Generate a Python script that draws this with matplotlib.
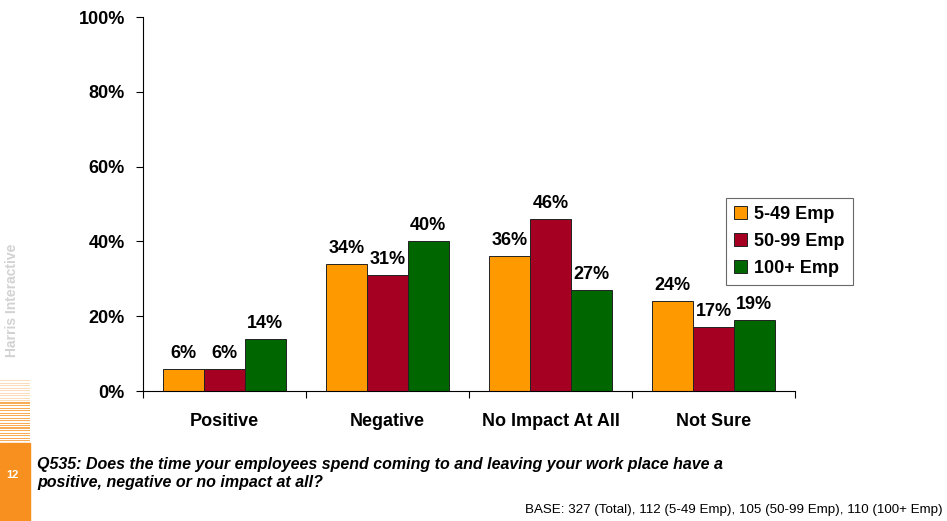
import matplotlib.pyplot as plt
import matplotlib.patches as patches
import numpy as np

plt.rcParams['font.family'] = ['Liberation Sans', 'DejaVu Sans']

categories = ['Positive', 'Negative', 'No Impact At All', 'Not Sure']
series_names = ['5-49 Emp', '50-99 Emp', '100+ Emp']
emp_5_49 = [6, 34, 36, 24]
emp_50_99 = [6, 31, 46, 17]
emp_100_plus = [14, 40, 27, 19]
colors = ['#FF9900', '#A50021', '#006600']

question = ('Q535: Does the time your employees spend coming to and leaving your work place have a\n'
            'positive, negative or no impact at all?')
base_note = 'BASE: 327 (Total), 112 (5-49 Emp), 105 (50-99 Emp), 110 (100+ Emp)'

W, H = 947, 521
fig = plt.figure(figsize=(W / 100, H / 100), dpi=100)
ax = fig.add_axes([143 / W, 1 - 391 / H, (795 - 143) / W, (391 - 17) / H])

x = np.arange(len(categories))
width = 0.25
for i, (vals, name, c) in enumerate(zip([emp_5_49, emp_50_99, emp_100_plus], series_names, colors)):
    pos = x + (i - 1) * width
    bars = ax.bar(pos, vals, width, color=c, edgecolor='#222222', linewidth=0.7, label=name)
    for b, v in zip(bars, vals):
        ax.annotate(f'{v}%', (b.get_x() + b.get_width() / 2, v), xytext=(0, 5),
                    textcoords='offset points', ha='center', va='bottom',
                    fontsize=13, fontweight='bold')

ax.set_xlim(-0.5, len(categories) - 0.5)
ax.set_ylim(0, 100)
ax.set_yticks(range(0, 101, 20))
ax.set_yticklabels([f'{v}%' for v in range(0, 101, 20)], fontsize=13, fontweight='bold')
ax.tick_params(axis='y', direction='out', length=5, width=0.8, pad=8)

ax.set_xticks(x)
ax.set_xticklabels(categories, fontsize=13, fontweight='bold')
ax.tick_params(axis='x', which='major', length=0, pad=16)
ax.set_xticks(np.arange(-0.5, len(categories), 1), minor=True)
ax.tick_params(axis='x', which='minor', direction='out', length=5, width=0.8)

for s in ['top', 'right']:
    ax.spines[s].set_visible(False)
for s in ['left', 'bottom']:
    ax.spines[s].set_linewidth(0.8)

leg = fig.legend(loc='upper left', bbox_to_anchor=(726 / W, 1 - 198 / H),
                 prop={'size': 13, 'weight': 'bold'}, frameon=True, fancybox=False,
                 handlelength=0.7, handleheight=0.7, handletextpad=0.4,
                 labelspacing=0.55, borderpad=0.45, borderaxespad=0)
leg.get_frame().set_edgecolor('#444444')
leg.get_frame().set_linewidth(0.8)

# orange side strip with faded stripes on top
orange = '#F7901E'
fig.patches.append(patches.Rectangle((0, 0), 30 / W, (H - 443) / H, transform=fig.transFigure,
                                     color=orange, zorder=0))
for yy in np.arange(380, 443, 2.5):
    alpha = 0.3 if yy < 402 else 0.75
    fig.patches.append(patches.Rectangle((0, 1 - (yy + 1.2) / H), 30 / W, 1.2 / H,
                                         transform=fig.transFigure, color=orange,
                                         alpha=alpha, zorder=0, linewidth=0))
fig.text(12 / W, 1 - 475 / H, '12', color='white', fontsize=8, fontweight='bold',
         ha='center', va='center')
fig.text(12 / W, 1 - 300 / H, 'Harris Interactive', color='#D2D2D2', fontsize=10,
         fontweight='bold', rotation=90, ha='center', va='center')

fig.text(37 / W, 1 - 457 / H, question, fontsize=11.5, fontweight='bold', style='italic',
         ha='left', va='top', linespacing=1.25)
fig.text(943 / W, 1 - 510 / H, base_note, fontsize=9.6, ha='right', va='center')

fig.savefig('out.png', dpi=100)
